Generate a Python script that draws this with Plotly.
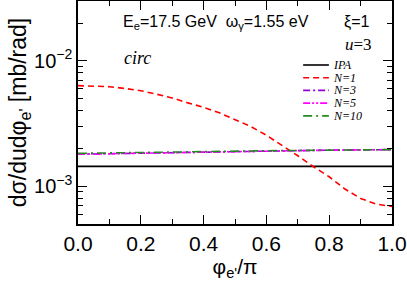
import plotly.graph_objects as go

phi = [0.0, 0.05, 0.1, 0.15, 0.2, 0.25, 0.3, 0.35, 0.4, 0.45, 0.5,
       0.55, 0.6, 0.65, 0.7, 0.75, 0.8, 0.85, 0.9, 0.95, 1.0]
ipa = [1.44e-3] * len(phi)
n1 = [6.34e-3, 6.32e-3, 6.22e-3, 6.02e-3, 5.78e-3, 5.42e-3, 5.06e-3, 4.62e-3, 4.26e-3, 3.85e-3, 3.42e-3,
      3.00e-3, 2.55e-3, 2.12e-3, 1.75e-3, 1.43e-3, 1.19e-3, 0.95e-3, 0.80e-3, 0.72e-3, 0.69e-3]
n3 = [1.80e-3, 1.81e-3, 1.82e-3, 1.83e-3, 1.84e-3, 1.85e-3, 1.86e-3, 1.87e-3, 1.88e-3, 1.89e-3, 1.90e-3,
      1.91e-3, 1.92e-3, 1.925e-3, 1.93e-3, 1.935e-3, 1.94e-3, 1.945e-3, 1.95e-3, 1.955e-3, 1.96e-3]
n5 = [1.80e-3, 1.81e-3, 1.82e-3, 1.83e-3, 1.84e-3, 1.85e-3, 1.86e-3, 1.87e-3, 1.88e-3, 1.89e-3, 1.90e-3,
      1.91e-3, 1.92e-3, 1.925e-3, 1.93e-3, 1.935e-3, 1.94e-3, 1.945e-3, 1.95e-3, 1.955e-3, 1.96e-3]
n10 = [1.83e-3, 1.835e-3, 1.84e-3, 1.85e-3, 1.855e-3, 1.86e-3, 1.87e-3, 1.875e-3, 1.88e-3, 1.89e-3, 1.90e-3,
       1.91e-3, 1.92e-3, 1.925e-3, 1.93e-3, 1.935e-3, 1.94e-3, 1.945e-3, 1.95e-3, 1.955e-3, 1.96e-3]

y_major = [1e-3, 1e-2]
y_major_text = ["10<sup>−3</sup>", "10<sup>−2</sup>"]
y_minor = [5e-4, 6e-4, 7e-4, 8e-4, 9e-4, 2e-3, 3e-3, 4e-3, 5e-3, 6e-3, 7e-3, 8e-3, 9e-3, 2e-2, 3e-2]

series = [
    ("IPA", ipa, "black", "solid"),
    ("N=1", n1, "#ff0000", "6px,4px"),
    ("N=3", n3, "#9400d3", "7px,3px,2px,3px"),
    ("N=5", n5, "#ff00ff", "7px,2px,2px,2px,2px,2px"),
    ("N=10", n10, "#228b22", "9px,4px,2px,4px"),
]

fig = go.Figure()
for name, vals, col, dash in series:
    fig.add_trace(go.Scatter(x=phi, y=vals, mode="lines", name=name, showlegend=False,
                             line=dict(color=col, dash=dash, width=1.6)))

# manual compact legend
for i, (name, vals, col, dash) in enumerate(series):
    yy = 0.713 - i * 0.057
    fig.add_shape(type="line", xref="paper", yref="paper", x0=0.717, x1=0.799, y0=yy, y1=yy,
                  line=dict(color=col, dash=dash, width=1.6))
    fig.add_annotation(x=0.806, y=yy, xref="paper", yref="paper", xanchor="left", yanchor="middle",
                       showarrow=False, text="<i>" + name + "</i>",
                       font=dict(family="Liberation Serif", size=12, color="black"))

axis_common = dict(showline=True, linecolor="black", linewidth=1.5, mirror="allticks",
                   ticks="inside", tickcolor="black", tickwidth=1.2, showgrid=False, zeroline=False,
                   automargin=False)

fig.update_xaxes(range=[0, 1], dtick=0.2, tickformat=".1f", ticklen=9,
                 tickfont=dict(family="Liberation Sans", size=21, color="black"),
                 minor=dict(dtick=0.1, ticks="inside", ticklen=5, tickcolor="black", showgrid=False),
                 title=dict(text="φ<sub>e'</sub>/π", font=dict(family="Liberation Sans", size=21, color="black"),
                            standoff=0),
                 **axis_common)
fig.update_yaxes(type="log", range=[-3.301, -1.523], tickmode="array", tickvals=y_major,
                 ticktext=y_major_text, ticklen=9,
                 tickfont=dict(family="Liberation Sans", size=20, color="black"),
                 minor=dict(tickmode="array", tickvals=y_minor, ticks="inside", ticklen=5,
                            tickcolor="black", showgrid=False),
                 title=dict(text="dσ/dudφ<sub>e'</sub> [mb/rad]", font=dict(family="Liberation Sans", size=23, color="black"),
                            standoff=1),
                 **axis_common)

fig.add_annotation(x=0.44, y=0.903, xref="paper", yref="paper", showarrow=False,
                   xanchor="center", yanchor="middle",
                   text="E<sub>e</sub>=17.5 GeV  ω<sub>γ</sub>=1.55 eV",
                   font=dict(family="Liberation Sans", size=16, color="black"))
fig.add_annotation(x=0.89, y=0.907, xref="paper", yref="paper", showarrow=False,
                   xanchor="center", yanchor="middle",
                   text="ξ=1", font=dict(family="Liberation Sans", size=16, color="black"))
fig.add_annotation(x=0.893, y=0.805, xref="paper", yref="paper", showarrow=False,
                   xanchor="center", yanchor="middle",
                   text="<i>u</i>=3", font=dict(family="Liberation Serif", size=17, color="black"))
fig.add_annotation(x=0.19, y=0.745, xref="paper", yref="paper", showarrow=False,
                   xanchor="center", yanchor="middle",
                   text="<i>circ</i>", font=dict(family="Liberation Serif", size=18, color="black"))

fig.update_layout(
    width=407, height=282,
    margin=dict(l=78, r=15, t=1, b=58),
    paper_bgcolor="white", plot_bgcolor="white",
    showlegend=False,
)

fig.write_html("out.html", config={"displayModeBar": False},
               post_script="document.body.style.margin='0px';document.body.style.padding='0px';")
